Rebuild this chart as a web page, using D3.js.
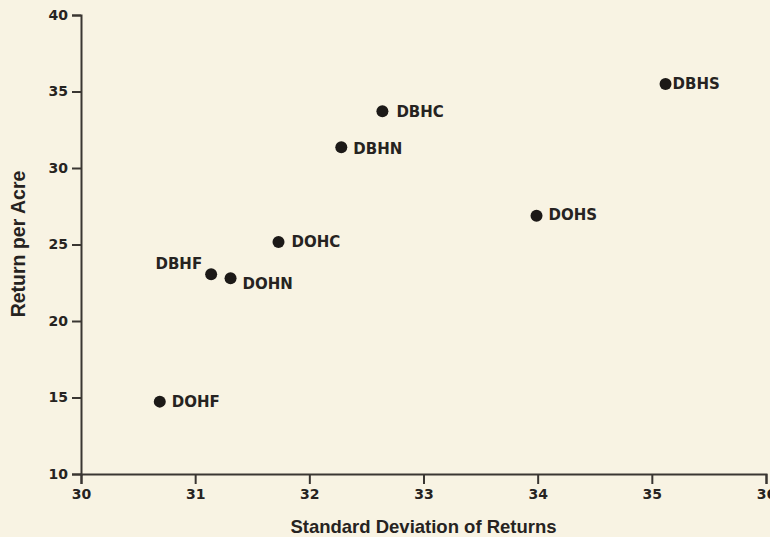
<!DOCTYPE html>
<html>
<head>
<meta charset="utf-8">
<script src="https://cdn.jsdelivr.net/npm/d3@7"></script>
<style>
  body { margin:0; background:#f8f3e3; }
  svg { display:block; }
  .tick text { font-family:"DejaVu Sans", sans-serif; font-weight:bold; font-size:14px; fill:#262321; }
  .axis-label { font-family:"Liberation Sans", Arial, sans-serif; font-weight:bold; font-size:18.5px; fill:#262321; }
  .pt-label { font-family:"DejaVu Sans", sans-serif; font-weight:bold; font-size:15px; fill:#262321; }
</style>
</head>
<body>
<div id="chart-area"></div>
<script>
// points
var names = ["DBHS","DBHC","DBHN","DOHS","DOHC","DBHF","DOHN","DOHF"];
var stdDev = [35.12, 32.64, 32.28, 33.99, 31.73, 31.14, 31.31, 30.69];
var returns = [35.49, 33.71, 31.35, 26.88, 25.16, 23.05, 22.79, 14.73];
var xTicks = [30, 31, 32, 33, 34, 35, 36];
var yTicks = [10, 15, 20, 25, 30, 35, 40];

var margin={left:81,right:4,top:15,bottom:63};
var width=770-margin.left-margin.right;
var height=537-margin.top-margin.bottom;

// where each name sits next to its dot
var labelPos = {
    DBHS:{dx:7,dy:4.5,anchor:"start"},
    DBHC:{dx:14,dy:5.5,anchor:"start"},
    DBHN:{dx:12,dy:6.5,anchor:"start"},
    DOHS:{dx:12,dy:4.5,anchor:"start"},
    DOHC:{dx:13,dy:5,anchor:"start"},
    DBHF:{dx:-9,dy:-5,anchor:"end"},
    DOHN:{dx:12,dy:11,anchor:"start"},
    DOHF:{dx:12,dy:5,anchor:"start"}
};

var data = names.map(function(n,i){ return {name:n, x:stdDev[i], y:returns[i]}; });

var g=d3.select("#chart-area").append("svg")
    .attr("width",770)
    .attr("height",537)
    .append("g")
    .attr("transform","translate("+margin.left+","+margin.top+")");

var x=d3.scaleLinear().domain([30,36]).range([0,width]);
var y=d3.scaleLinear().domain([10,40]).range([height,0]);

var xAxisGroup=g.append("g")
    .attr("transform","translate(0,"+height+")")
    .call(d3.axisBottom(x).tickValues(xTicks).tickSize(10).tickPadding(5).tickFormat(d3.format("d")));

var yAxisGroup=g.append("g")
    .call(d3.axisLeft(y).tickValues(yTicks).tickSize(9).tickPadding(4).tickFormat(d3.format("d")));

[xAxisGroup,yAxisGroup].forEach(function(ax){
    ax.select(".domain").attr("stroke","#3a3632").attr("stroke-width",2);
    ax.selectAll(".tick line").attr("stroke","#3a3632").attr("stroke-width",2);
});
xAxisGroup.selectAll(".tick text").attr("dy","0.72em");

g.append("text")
    .attr("class","axis-label")
    .attr("x",width/2)
    .attr("y",height+59)
    .attr("text-anchor","middle")
    .text("Standard Deviation of Returns");

g.append("text")
    .attr("class","axis-label")
    .attr("transform","rotate(-90)")
    .attr("x",-(244-margin.top))
    .attr("y",-56)
    .attr("text-anchor","middle")
    .style("font-size","19.5px")
    .text("Return per Acre");

var pts=g.selectAll(".pt").data(data).enter().append("g").attr("class","pt");

pts.append("circle")
    .attr("cx",function(d){return x(d.x);})
    .attr("cy",function(d){return y(d.y);})
    .attr("r",6)
    .attr("fill","#1c1917");

pts.append("text")
    .attr("class","pt-label")
    .attr("x",function(d){return x(d.x)+labelPos[d.name].dx;})
    .attr("y",function(d){return y(d.y)+labelPos[d.name].dy;})
    .attr("text-anchor",function(d){return labelPos[d.name].anchor;})
    .text(function(d){return d.name;});
</script>
</body>
</html>
